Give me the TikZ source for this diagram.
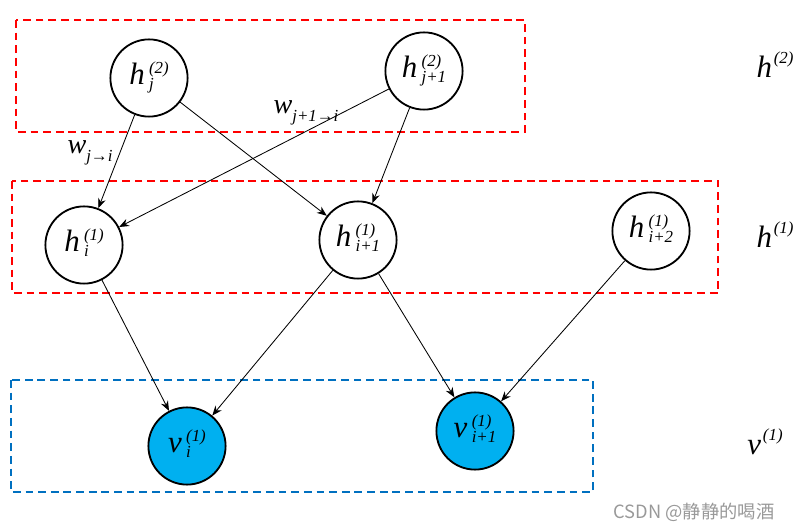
\documentclass[tikz,border=0pt]{standalone}
\usepackage{fontspec}
\setmainfont{Liberation Serif}
\newfontfamily\cjkfont{Noto Sans CJK SC}
\usepackage{xcolor}
\usepackage{tikz}
\usetikzlibrary{arrows.meta}

\definecolor{boxred}{HTML}{FF0000}
\definecolor{boxblue}{HTML}{0070C0}
\definecolor{unitfill}{HTML}{00B0F0}

% small index size and stacked label: letter, layer, index
\newcommand{\idx}{\fontsize{12}{13}\selectfont}
\newcommand{\unitlab}[3]{\itshape #1\kern0.14em\raisebox{0.08em}{\idx\begin{tabular}[c]{@{}l@{}}#2\\[-0.1em]#3\end{tabular}}}
\newcommand{\layerlab}[2]{\itshape #1\kern0.06em\raisebox{0.45em}{\idx #2}}

\begin{document}
\begin{tikzpicture}[%
  unit/.style={circle, draw, line width=1.3pt, minimum size=1.93cm, inner sep=0pt,
    font=\fontsize{22}{24}\selectfont},
  visible/.style={unit, fill=unitfill},
  layerbox/.style={dashed, line width=1.4pt, dash pattern=on 5.5pt off 3.5pt},
  layername/.style={font=\fontsize{22}{24}\selectfont},
  weight/.style={font=\fontsize{20}{22}\selectfont},
  link/.style={-{Stealth[length=7pt,width=5.5pt]}, line width=0.6pt}]
  \useasboundingbox (0,0) rectangle (19.85,13.275);

  % layer boxes
  \draw[layerbox, boxred]  (0.4,12.775) rectangle (13.125,9.975);
  \draw[layerbox, boxred]  (0.3,8.75) rectangle (17.95,5.95);
  \draw[layerbox, boxblue] (0.275,3.775) rectangle (14.825,0.975);

  % units
  \node[unit] (hj) at (3.725,11.325) {\unitlab{h}{(2)}{j}};
  \node[unit] (hjj) at (10.6,11.5) {\unitlab{h}{(2)}{j+1}};
  \node[unit] (hi) at (2.1,7.15) {\unitlab{h}{(1)}{i}};
  \node[unit] (hii) at (8.95,7.275) {\unitlab{h}{(1)}{i+1}};
  \node[unit] (hiii) at (16.275,7.5) {\unitlab{h}{(1)}{i+2}};
  \node[visible] (vi) at (4.675,2.125) {\unitlab{v}{(1)}{i}};
  \node[visible] (vii) at (11.875,2.5) {\unitlab{v}{(1)}{i+1}};

  % layer names
  \node[layername] (top) at (19.375,11.65) {\layerlab{h}{(2)}};
  \node[layername] (mid) at (19.375,7.4) {\layerlab{h}{(1)}};
  \node[layername] (bot) at (19.125,2.225) {\layerlab{v}{(1)}};

  % connections
  \draw[link] (hj) -- (hi);
  \draw[link] (hj) -- (hii);
  \draw[link] (hjj) -- (hi);
  \draw[link] (hjj) -- (hii);
  \draw[link] (hi) -- (vi);
  \draw[link] (hii) -- (vi);
  \draw[link] (hii) -- (vii);
  \draw[link] (hiii) -- (vii);

  % weights
  \node[weight] (wa) at (2.25,9.45) {\itshape w\raisebox{-0.3em}{\idx j→i}};
  \node[weight] (wb) at (7.65,10.45) {\itshape w\raisebox{-0.3em}{\idx j+1→i}};

  \node[text=black!40, font=\cjkfont\fontsize{13}{14}\selectfont] (mark) at (17.35,0.475) {CSDN @静静的喝酒};
\end{tikzpicture}
\end{document}
